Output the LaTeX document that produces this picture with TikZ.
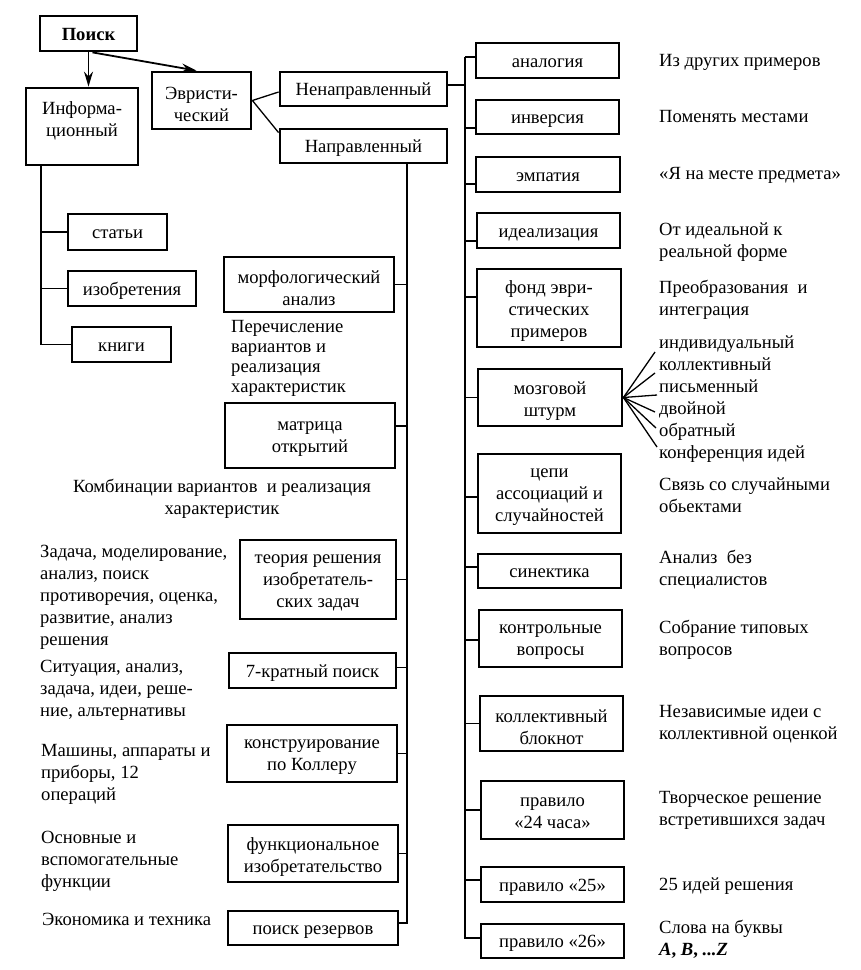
\documentclass[tikz,border=0pt]{standalone}
\usepackage{fontspec}
\setmainfont{Liberation Serif}
\usetikzlibrary{arrows.meta,calc}
\begin{document}
\begin{tikzpicture}[x=1pt,y=-1pt,
  every node/.style={font=\fontsize{18.6}{22}\selectfont},
  frame/.style={draw,line width=2.8pt,inner sep=0pt},
  box/.style={frame,align=center,
    execute at begin node={\rule{0pt}{17.5pt}},
    execute at end node={\rule[-4.5pt]{0pt}{4.5pt}}},
  lbl/.style={align=center,inner sep=0pt,yshift=-3.5pt},
  conn/.style={line width=1.3pt},
  arr/.style={line width=1.8pt,-{Stealth[length=15pt,width=9pt]}},
  txt/.style={align=left,anchor=north west,inner sep=0pt},
]
\fill[white] (0,0) rectangle (861,970);
\useasboundingbox (0,0) rectangle (861,970);

% top
\node[box,minimum width=97pt,minimum height=35pt] (poisk) at (88.5,33.5) {\textbf{Поиск}};
\node[frame,minimum width=112pt,minimum height=77pt] (info) at (82,126.5) {};
\node[align=center,inner sep=0pt] (infotext) at (82,121) {Информа-\\ционный};
\node[frame,minimum width=99pt,minimum height=57pt] (evr) at (201.5,100.5) {};
\node[lbl] (evr-t) at (evr.center) {Эвристи-\\ческий};
\node[box,minimum width=167pt,minimum height=34pt] (nenapr) at (363.5,89) {Ненаправленный};
\node[box,minimum width=167pt,minimum height=34pt] (napr) at (363.5,146) {Направленный};

\draw[arr] (poisk.south) -- (poisk.south |- info.north);
\draw[arr] ([xshift=4pt]poisk.south) -- ([xshift=-5pt]evr.north);
\draw[conn] (evr.east) -- ([yshift=-3pt]nenapr.west);
\draw[conn] (evr.east) -- ([yshift=-5pt]napr.north west);

% informational
\node[box,minimum width=99pt,minimum height=36pt] (stati) at (117.5,232) {статьи};
\node[box,minimum width=128pt,minimum height=35pt] (izobr) at (132,288.5) {изобретения};
\node[box,minimum width=99pt,minimum height=35pt] (knigi) at (121.5,344.5) {книги};
\coordinate (itop) at (41,165);
\draw[conn] (itop) |- (knigi.west);
\draw[conn] (itop |- stati.west) -- (stati.west);
\draw[conn] (itop |- izobr.west) -- (izobr.west);

% directed: middle column
\node[frame,minimum width=170pt,minimum height=55pt] (morf) at (309,284.5) {};
\node[lbl] (morf-t) at (morf.center) {морфологический\\анализ};
\node[frame,minimum width=170pt,minimum height=65pt] (matr) at (310,435.5) {};
\node[lbl] (matr-t) at (matr.center) {матрица\\открытий};
\node[frame,minimum width=156pt,minimum height=79pt] (triz) at (318,579.5) {};
\node[lbl] (triz-t) at (triz.center) {теория решения\\изобретатель-\\ских задач};
\node[box,minimum width=167pt,minimum height=35pt] (sem) at (312.5,670.5) {7-кратный поиск};
\node[frame,minimum width=170pt,minimum height=57pt] (koller) at (312,753.5) {};
\node[lbl] (koller-t) at (koller.center) {конструирование\\по Коллеру};
\node[frame,minimum width=170pt,minimum height=57pt] (func) at (313,853.5) {};
\node[lbl] (func-t) at (func.center) {функциональное\\изобретательство};
\node[box,minimum width=170pt,minimum height=34pt] (rez) at (313,928) {поиск резервов};

\coordinate (ntop) at (407,163);
\draw[conn] (ntop) |- ([yshift=5pt]rez.east);
\draw[conn] (morf.east) -- (morf.east -| ntop);
\draw[conn] ([yshift=9.5pt]matr.east) -- ([yshift=9.5pt]matr.east -| ntop);
\draw[conn] (triz.east) -- (triz.east -| ntop);
\draw[conn] ([yshift=3pt]sem.east) -- ([yshift=3pt]sem.east -| ntop);
\draw[conn] (koller.east) -- (koller.east -| ntop);
\draw[conn] (func.east) -- (func.east -| ntop);

% left descriptions
\node[txt,font=\fontsize{18.6}{20}\selectfont] (t-morf) at (231,320) {Перечисление\\вариантов и\\реализация\\характеристик};
\node[align=center,inner sep=0pt] (t-matr) at (222,499) {Комбинации вариантов\ \ и реализация\\характеристик};
\node[txt] (t-triz) at (40,545) {Задача, моделирование,\\анализ, поиск\\противоречия, оценка,\\развитие, анализ\\решения};
\node[txt] (t-sem) at (40,660) {Ситуация, анализ,\\задача, идеи, реше-\\ние, альтернативы};
\node[txt] (t-koller) at (41,744) {Машины, аппараты и\\приборы, 12\\операций};
\node[txt] (t-func) at (41,831) {Основные и\\вспомогательные\\функции};
\node[txt] (t-rez) at (42,913) {Экономика и техника};

% right column
\node[box,minimum width=143pt,minimum height=35pt] (analog) at (547.5,60.5) {аналогия};
\node[box,minimum width=143pt,minimum height=34pt] (inv) at (547.5,117) {инверсия};
\node[box,minimum width=144pt,minimum height=35pt] (emp) at (548,174.5) {эмпатия};
\node[box,minimum width=143pt,minimum height=35pt] (ideal) at (548.5,230.5) {идеализация};
\node[frame,minimum width=144pt,minimum height=78pt] (fond) at (549,308) {};
\node[lbl] (fond-t) at (fond.center) {фонд эври-\\стических\\примеров};
\node[frame,minimum width=144pt,minimum height=57pt] (mozg) at (550,397.5) {};
\node[lbl] (mozg-t) at (mozg.center) {мозговой\\штурм};
\node[frame,minimum width=143pt,minimum height=79pt] (cepi) at (549.5,493.5) {};
\node[lbl] (cepi-t) at (cepi.center) {цепи\\ассоциаций и\\случайностей};
\node[box,minimum width=143pt,minimum height=34pt] (sin) at (549.5,571) {синектика};
\node[frame,minimum width=143pt,minimum height=57pt] (kontr) at (550.5,638.5) {};
\node[lbl] (kontr-t) at (kontr.center) {контрольные\\вопросы};
\node[frame,minimum width=143pt,minimum height=55pt] (blok) at (551.5,723.5) {};
\node[lbl] (blok-t) at (blok.center) {коллективный\\блокнот};
\node[frame,minimum width=143pt,minimum height=58pt] (p24) at (552.5,810) {};
\node[lbl] (p24-t) at (p24.center) {правило\\«24 часа»};
\node[box,minimum width=143pt,minimum height=35pt] (p25) at (552.5,884.5) {правило «25»};
\node[box,minimum width=143pt,minimum height=34pt] (p26) at (552.5,941) {правило «26»};

\coordinate (rtop) at (465,57);
\draw[conn] ([yshift=4pt]nenapr.east) -- ([yshift=4pt]nenapr.east -| rtop);
\draw[conn] (rtop) |- ([yshift=3pt]p26.west);
\draw[conn] (rtop) -- ([yshift=3.5pt]analog.west);
\draw[conn] ([yshift=-11pt]inv.west -| rtop) -- ([yshift=-11pt]inv.west);
\draw[conn] ([yshift=-9.5pt]emp.west -| rtop) -- ([yshift=-9.5pt]emp.west);
\draw[conn] ([yshift=-10.5pt]ideal.west -| rtop) -- ([yshift=-10.5pt]ideal.west);
\draw[conn] ([yshift=11pt]fond.west -| rtop) -- ([yshift=11pt]fond.west);
\draw[conn] (mozg.west -| rtop) -- (mozg.west);
\draw[conn] ([yshift=-3.5pt]cepi.west -| rtop) -- ([yshift=-3.5pt]cepi.west);
\draw[conn] ([yshift=4pt]sin.west -| rtop) -- ([yshift=4pt]sin.west);
\draw[conn] ([yshift=-1.5pt]kontr.west -| rtop) -- ([yshift=-1.5pt]kontr.west);
\draw[conn] (blok.west -| rtop) -- (blok.west);
\draw[conn] (p24.west -| rtop) -- (p24.west);
\draw[conn] ([yshift=4.5pt]p25.west -| rtop) -- ([yshift=4.5pt]p25.west);

% right descriptions
\node[txt] (d-analog) at (659,54) {Из других примеров};
\node[txt] (d-inv) at (659,110) {Поменять местами};
\node[txt] (d-emp) at (659,167) {«Я на месте предмета»};
\node[txt] (d-ideal) at (659,223) {От идеальной к\\реальной форме};
\node[txt] (d-fond) at (659,280) {Преобразования\ \ и\\интеграция};
\node[txt] (d-mozg) at (659,336) {индивидуальный\\коллективный\\письменный\\двойной\\обратный\\конференция идей};
\node[txt] (d-cepi) at (659,478) {Связь со случайными\\обьектами};
\node[txt] (d-sin) at (659,550) {Анализ\ \ без\\специалистов};
\node[txt] (d-kontr) at (659,620) {Собрание типовых\\вопросов};
\node[txt] (d-blok) at (659,705) {Независимые идеи с\\коллективной оценкой};
\node[txt] (d-p24) at (659,791) {Творческое решение\\встретившихся задач};
\node[txt] (d-p25) at (659,878) {25 идей решения};
\node[txt] (d-p26) at (659,920) {Слова на буквы\\\textbf{\textit{A}, \textit{B}, \textit{...Z}}};

% brainstorm fan
\coordinate (f1) at (655,352);
\coordinate (f2) at (655,373);
\coordinate (f3) at (657,395);
\coordinate (f4) at (655,412);
\coordinate (f5) at (656,428);
\coordinate (f6) at (657,447);
\foreach \f in {f1,f2,f3,f4,f5,f6}
  \draw[conn] (mozg.east) -- (\f);
\end{tikzpicture}
\end{document}
